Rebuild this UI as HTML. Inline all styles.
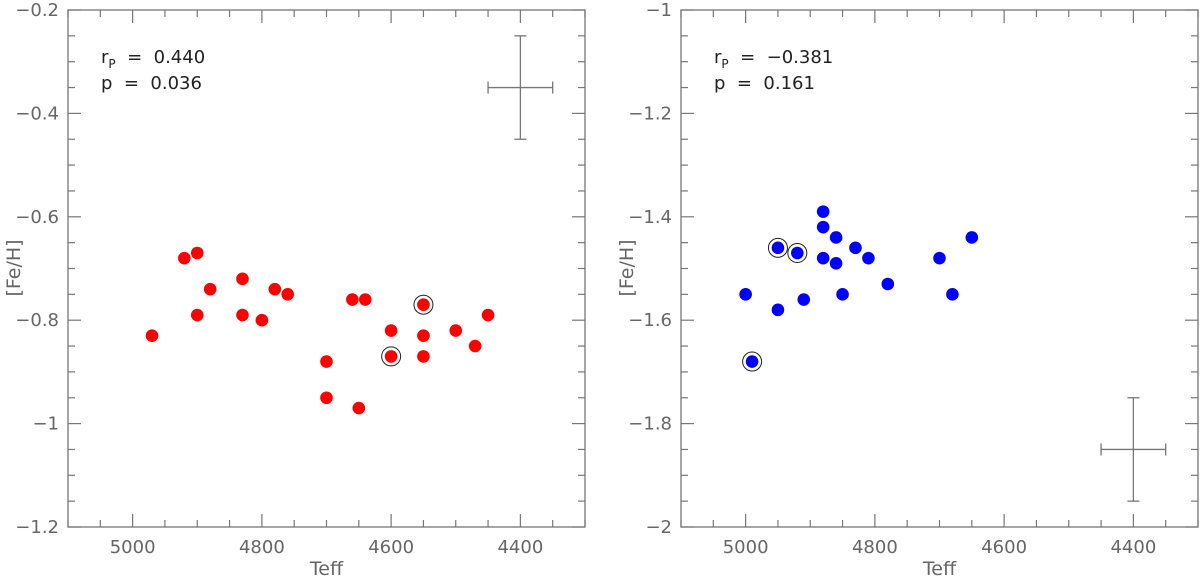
<!DOCTYPE html>
<html><head><meta charset="utf-8"><style>
html,body{margin:0;padding:0;background:#fff}
svg{display:block;font-family:"DejaVu Sans","Liberation Sans",sans-serif}
</style></head><body>
<svg id="chart" width="1200" height="578" xmlns="http://www.w3.org/2000/svg"></svg>
<script>
const leftTeff=[4970,4920,4900,4880,4900,4830,4830,4800,4780,4760,4700,4700,4660,4640,4650,4600,4600,4550,4550,4550,4500,4470,4450];
const leftFeH=[-0.83,-0.68,-0.67,-0.74,-0.79,-0.72,-0.79,-0.80,-0.74,-0.75,-0.88,-0.95,-0.76,-0.76,-0.97,-0.82,-0.87,-0.77,-0.83,-0.87,-0.82,-0.85,-0.79];
const leftCircled=[16,17];
const rightTeff=[5000,4950,4950,4990,4920,4910,4880,4880,4880,4860,4860,4850,4830,4810,4780,4700,4680,4650];
const rightFeH=[-1.55,-1.58,-1.46,-1.68,-1.47,-1.56,-1.39,-1.42,-1.48,-1.44,-1.49,-1.55,-1.46,-1.48,-1.53,-1.48,-1.55,-1.44];
const rightCircled=[2,3,4];
const xTicks=[5000,4800,4600,4400];
const leftYTicks=[-0.2,-0.4,-0.6,-0.8,-1,-1.2];
const leftYLabels=["\u22120.2","\u22120.4","\u22120.6","\u22120.8","\u22121","\u22121.2"];
const rightYTicks=[-1,-1.2,-1.4,-1.6,-1.8,-2];
const rightYLabels=["\u22121","\u22121.2","\u22121.4","\u22121.6","\u22121.8","\u22122"];
const leftErr=[4400,-0.35,50,0.1];
const rightErr=[4400,-1.85,50,0.1];

const svg=document.getElementById('chart');
const NS='http://www.w3.org/2000/svg';
function mk(tag,attrs,parent){const e=document.createElementNS(NS,tag);for(const k in attrs)e.setAttribute(k,attrs[k]);(parent||svg).appendChild(e);return e;}

function panel(opt){
  const g=mk('g',{});
  
  
  const L=opt.L,R=opt.R,T=10,B=527;
  const xs=v=>L+(5100-v)/800*(R-L);
  const ys=v=>T+(opt.ymax-v)/1.0*(B-T);
  const frame=mk('rect',{x:L,y:T,width:R-L,height:B-T,fill:'none',stroke:'#777','stroke-width':1.3},g);
  
  
  for(let v=5100;v>=4300;v-=50){
    const major=(v%200===0);const len=major?13:7;const x=xs(v);
    mk('line',{x1:x,y1:B,x2:x,y2:B-len,stroke:'#777','stroke-width':1.2},g);
    mk('line',{x1:x,y1:T,x2:x,y2:T+len,stroke:'#777','stroke-width':1.2},g);
  }
  for(let i=0;i<=20;i++){
    const v=opt.ymax-i*0.05;const major=(i%4===0);const len=major?13:7;const y=ys(v);
    mk('line',{x1:L,y1:y,x2:L+len,y2:y,stroke:'#777','stroke-width':1.2},g);
    mk('line',{x1:R,y1:y,x2:R-len,y2:y,stroke:'#777','stroke-width':1.2},g);
  }
  xTicks.forEach(v=>{const t=mk('text',{x:xs(v),y:553,'text-anchor':'middle','font-size':18,fill:'#666'},g);t.textContent=v;
    
    });
  opt.yTicks.forEach((v,i)=>{const t=mk('text',{x:L-9,y:ys(v)+6,'text-anchor':'end','font-size':18,fill:'#666'},g);t.textContent=opt.yLabels[i];
    
    });
  const xt=mk('text',{x:(L+R)/2,y:575,'text-anchor':'middle','font-size':19,fill:'#666'},g);xt.textContent='Teff';
  
  
  const yt=mk('text',{x:0,y:0,'text-anchor':'middle','font-size':19,fill:'#666',transform:`translate(${L-48},268) rotate(-90)`},g);yt.textContent='[Fe/H]';
  
  
  const a1=mk('text',{x:L+33,y:63,'font-size':18,fill:'#222','xml:space':'preserve'},g);
  a1.innerHTML='r<tspan font-size="12" dy="5">P</tspan><tspan dy="-5">\u00a0 = \u00a0'+opt.r+'</tspan>';
  
  
  const a2=mk('text',{x:L+33,y:89,'font-size':18,fill:'#222'},g);a2.textContent='p \u00a0=\u00a0 '+opt.p;
  
  
  const e=opt.err;const eg=mk('g',{stroke:'#777','stroke-width':1.3},g);
  
  
  mk('line',{x1:xs(e[0]+e[2]),y1:ys(e[1]),x2:xs(e[0]-e[2]),y2:ys(e[1])},eg);
  mk('line',{x1:xs(e[0]),y1:ys(e[1]+e[3]),x2:xs(e[0]),y2:ys(e[1]-e[3])},eg);
  mk('line',{x1:xs(e[0]+e[2]),y1:ys(e[1])-6,x2:xs(e[0]+e[2]),y2:ys(e[1])+6},eg);
  mk('line',{x1:xs(e[0]-e[2]),y1:ys(e[1])-6,x2:xs(e[0]-e[2]),y2:ys(e[1])+6},eg);
  mk('line',{x1:xs(e[0])-6,y1:ys(e[1]+e[3]),x2:xs(e[0])+6,y2:ys(e[1]+e[3])},eg);
  mk('line',{x1:xs(e[0])-6,y1:ys(e[1]-e[3]),x2:xs(e[0])+6,y2:ys(e[1]-e[3])},eg);
  opt.tx.forEach((t,i)=>{
    const cx=xs(t),cy=ys(opt.fe[i]);
    if(opt.circ.includes(i)){const r=mk('circle',{cx,cy,r:9.5,fill:'none',stroke:'#222','stroke-width':1},g);
      
      }
    const c=mk('circle',{cx,cy,r:6.3,fill:opt.color},g);
    
    
  });
}
panel({name:'left-panel',L:68,R:585,ymax:-0.2,yTicks:leftYTicks,yLabels:leftYLabels,tx:leftTeff,fe:leftFeH,circ:leftCircled,color:'#ff0000',r:'0.440',p:'0.036',err:leftErr});
panel({name:'right-panel',L:681,R:1198,ymax:-1,yTicks:rightYTicks,yLabels:rightYLabels,tx:rightTeff,fe:rightFeH,circ:rightCircled,color:'#0000ff',r:'\u22120.381',p:'0.161',err:rightErr});
</script>
</body></html>
